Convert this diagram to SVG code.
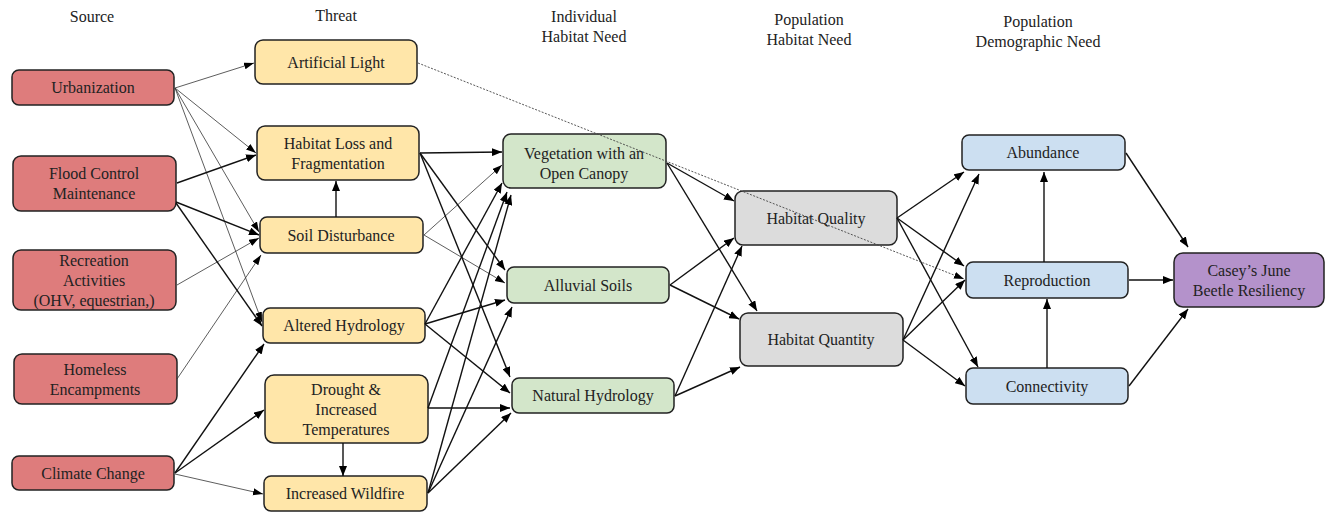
<svg xmlns="http://www.w3.org/2000/svg" width="1327" height="513" viewBox="0 0 1327 513" font-family="'Liberation Serif', 'DejaVu Serif', serif">
<style>
text{font-family:"Liberation Serif","DejaVu Serif",serif;font-size:16px;fill:#222;text-anchor:middle}
.n rect{stroke:#222;stroke-width:1.5}
.src rect{fill:#DE7C7C}
.thr rect{fill:#FFE6A9}
.ind rect{fill:#D3E6CA}
.pop rect{fill:#DCDCDC}
.dem rect{fill:#CCDFF1}
.fin rect{fill:#B492CB}
.c line{stroke:#111;stroke-width:1.4;marker-end:url(#ah)}
.c line.t{stroke:#333;stroke-width:0.8;marker-end:url(#ahs)}
.c line.d{stroke:#444;stroke-width:0.9;stroke-dasharray:2 1.5;marker-end:url(#ahs)}
</style>
<defs>
<marker id="ah" markerUnits="userSpaceOnUse" markerWidth="11" markerHeight="8" refX="10" refY="4" orient="auto"><path d="M0,0 L10,4 L0,8 z" fill="#000"/></marker>
<marker id="ahs" markerUnits="userSpaceOnUse" markerWidth="11" markerHeight="8" refX="10" refY="3.5" orient="auto"><path d="M0,0 L10,3.5 L0,7 z" fill="#000"/></marker>
</defs>
<rect width="1327" height="513" fill="#fff"/>
<g id="headers">
<text x="92" y="22">Source</text>
<text x="336" y="21">Threat</text>
<text x="584" y="22">Individual</text>
<text x="584" y="42">Habitat Need</text>
<text x="809" y="25">Population</text>
<text x="809" y="45">Habitat Need</text>
<text x="1038" y="27">Population</text>
<text x="1038" y="47">Demographic Need</text>
</g>
<g id="urbanization" class="n src"><rect x="12" y="70" width="162" height="35" rx="7"/><text x="93" y="93">Urbanization</text></g>
<g id="flood-control" class="n src"><rect x="13" y="156" width="163" height="55" rx="8"/><text x="94" y="179">Flood Control</text><text x="94" y="199">Maintenance</text></g>
<g id="recreation" class="n src"><rect x="13" y="250" width="163" height="60" rx="8"/><text x="94" y="266">Recreation</text><text x="94" y="286">Activities</text><text x="94" y="306">(OHV, equestrian,)</text></g>
<g id="homeless" class="n src"><rect x="14" y="354" width="163" height="50" rx="8"/><text x="95" y="375">Homeless</text><text x="95" y="395">Encampments</text></g>
<g id="climate-change" class="n src"><rect x="12" y="456" width="162" height="34" rx="7"/><text x="93" y="479">Climate Change</text></g>
<g id="artificial-light" class="n thr"><rect x="255" y="40" width="162" height="44" rx="8"/><text x="336" y="68">Artificial Light</text></g>
<g id="habitat-loss" class="n thr"><rect x="257" y="126" width="162" height="54" rx="8"/><text x="338" y="149">Habitat Loss and</text><text x="338" y="169">Fragmentation</text></g>
<g id="soil-disturbance" class="n thr"><rect x="260" y="217" width="163" height="36" rx="7"/><text x="341" y="241">Soil Disturbance</text></g>
<g id="altered-hydrology" class="n thr"><rect x="263" y="308" width="162" height="35" rx="7"/><text x="344" y="331">Altered Hydrology</text></g>
<g id="drought" class="n thr"><rect x="265" y="375" width="163" height="68" rx="9"/><text x="346" y="395">Drought &amp;</text><text x="346" y="415">Increased</text><text x="346" y="435">Temperatures</text></g>
<g id="wildfire" class="n thr"><rect x="264" y="476" width="163" height="35" rx="7"/><text x="345" y="499">Increased Wildfire</text></g>
<g id="vegetation" class="n ind"><rect x="503" y="134" width="163" height="54" rx="8"/><text x="584" y="159">Vegetation with an</text><text x="584" y="179">Open Canopy</text></g>
<g id="alluvial-soils" class="n ind"><rect x="507" y="267" width="162" height="36" rx="7"/><text x="588" y="291">Alluvial Soils</text></g>
<g id="natural-hydrology" class="n ind"><rect x="512" y="378" width="162" height="35" rx="7"/><text x="593" y="401">Natural Hydrology</text></g>
<g id="habitat-quality" class="n pop"><rect x="735" y="191" width="162" height="54" rx="8"/><text x="816" y="224">Habitat Quality</text></g>
<g id="habitat-quantity" class="n pop"><rect x="740" y="313" width="163" height="53" rx="8"/><text x="821" y="345">Habitat Quantity</text></g>
<g id="abundance" class="n dem"><rect x="962" y="135" width="163" height="35" rx="7"/><text x="1043" y="158">Abundance</text></g>
<g id="reproduction" class="n dem"><rect x="966" y="262" width="162" height="36" rx="7"/><text x="1047" y="286">Reproduction</text></g>
<g id="connectivity" class="n dem"><rect x="966" y="368" width="162" height="36" rx="7"/><text x="1047" y="392">Connectivity</text></g>
<g id="resiliency" class="n fin"><rect x="1174" y="253" width="150" height="54" rx="9"/><text x="1249" y="276">Casey’s June</text><text x="1249" y="296">Beetle Resiliency</text></g>
<g id="connectors" class="c">
<line class="t" x1="175" y1="88" x2="254" y2="63"/>
<line class="t" x1="175" y1="88" x2="256" y2="153"/>
<line class="t" x1="175" y1="88" x2="259" y2="232"/>
<line class="t" x1="175" y1="88" x2="262" y2="322"/>
<line class="t" x1="177" y1="285" x2="259" y2="238"/>
<line class="t" x1="177" y1="379" x2="261" y2="255"/>
<line class="t" x1="175" y1="474" x2="263" y2="494"/>
<line class="t" x1="424" y1="235" x2="502" y2="165"/>
<line class="t" x1="424" y1="235" x2="505" y2="283"/>
<line x1="177" y1="183" x2="256" y2="155"/>
<line x1="176" y1="202" x2="259" y2="235"/>
<line x1="176" y1="203" x2="262" y2="326"/>
<line x1="175" y1="473" x2="264" y2="344"/>
<line x1="175" y1="473" x2="264" y2="410"/>
<line x1="336" y1="217" x2="336" y2="181"/>
<line x1="343" y1="443" x2="343" y2="476"/>
<line x1="420" y1="153" x2="502" y2="152"/>
<line x1="420" y1="153" x2="505" y2="270"/>
<line x1="420" y1="153" x2="510" y2="377"/>
<line x1="425" y1="324" x2="502" y2="183"/>
<line x1="425" y1="324" x2="505" y2="300"/>
<line x1="425" y1="324" x2="510" y2="393"/>
<line x1="428" y1="408" x2="507" y2="192"/>
<line x1="428" y1="408" x2="510" y2="408"/>
<line x1="428" y1="493" x2="511" y2="195"/>
<line x1="428" y1="493" x2="512" y2="307"/>
<line x1="428" y1="493" x2="511" y2="413"/>
<line x1="667" y1="163" x2="734" y2="201"/>
<line x1="667" y1="163" x2="757" y2="311"/>
<line x1="670" y1="285" x2="734" y2="238"/>
<line x1="670" y1="285" x2="739" y2="319"/>
<line x1="675" y1="396" x2="742" y2="246"/>
<line x1="675" y1="396" x2="740" y2="367"/>
<line x1="897" y1="218" x2="964" y2="172"/>
<line x1="897" y1="218" x2="964" y2="266"/>
<line x1="897" y1="218" x2="978" y2="367"/>
<line x1="903" y1="340" x2="979" y2="174"/>
<line x1="903" y1="340" x2="965" y2="280"/>
<line x1="903" y1="340" x2="965" y2="386"/>
<line x1="1044" y1="262" x2="1044" y2="172"/>
<line x1="1047" y1="368" x2="1047" y2="299"/>
<line x1="1126" y1="153" x2="1188" y2="247"/>
<line x1="1129" y1="280" x2="1173" y2="280"/>
<line x1="1129" y1="386" x2="1188" y2="309"/>
<line class="d" x1="418" y1="63" x2="964" y2="279"/>
</g>
</svg>
